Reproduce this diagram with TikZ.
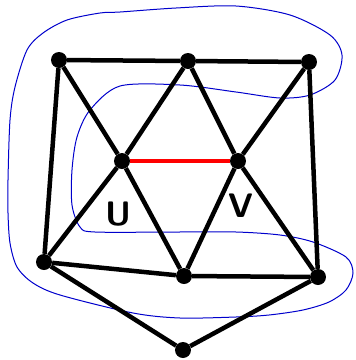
\documentclass[tikz,border=0pt]{standalone}
\begin{document}
\begin{tikzpicture}[x=1pt,y=-1pt,
  dot/.style={circle,fill=black,inner sep=0pt,minimum size=16pt},
  edge/.style={line width=4.5pt,black},
  redge/.style={line width=4.5pt,red},
  curve/.style={line width=1pt,blue!80!black},
  lbl/.style={font=\fontsize{34}{34}\selectfont\sffamily\bfseries}]
\useasboundingbox (0,0) rectangle (356,360);
\draw[curve] plot[smooth cycle,tension=0.5] coordinates {
 (120,12) (176,8) (236,6) (290,15) (330,35) (342,55) (335,80) (310,95) (280,98) (236,92)
 (180,85) (120,86) (90,110) (77,137) (72,170) (72,205) (80,227) (95,232) (176,232)
 (236,232) (280,235) (313,242) (346,257) (353,273) (346,290) (329,302) (303,310)
 (269,315) (236,317) (180,318) (133,313) (60,295) (33,283) (17,267) (10,243)
 (8,213) (8,180) (10,120) (15,87) (27,50) (43,33) (67,20) (100,13)};
\node[dot] (a) at (59,60) {};
\node[dot] (b) at (188,61) {};
\node[dot] (c) at (309,62) {};
\node[dot] (u) at (122,161) {};
\node[dot] (v) at (238,161) {};
\node[dot] (d) at (44,262) {};
\node[dot] (e) at (184,276) {};
\node[dot] (f) at (318,277) {};
\node[dot] (g) at (183,350) {};
\draw[edge] (a) -- (b);
\draw[edge] (b) -- (c);
\draw[edge] (a) -- (u);
\draw[edge] (a) -- (d);
\draw[edge] (b) -- (u);
\draw[edge] (b) -- (v);
\draw[edge] (c) -- (v);
\draw[edge] (c) -- (f);
\draw[edge] (u) -- (d);
\draw[edge] (u) -- (e);
\draw[edge] (v) -- (e);
\draw[edge] (v) -- (f);
\draw[edge] (d) -- (e);
\draw[edge] (e) -- (f);
\draw[edge] (d) -- (g);
\draw[edge] (f) -- (g);
\draw[redge] (u) -- (v);
\node[lbl] (ul) at (118,214) {U};
\node[lbl] (vl) at (241,206) {V};
\end{tikzpicture}
\end{document}
